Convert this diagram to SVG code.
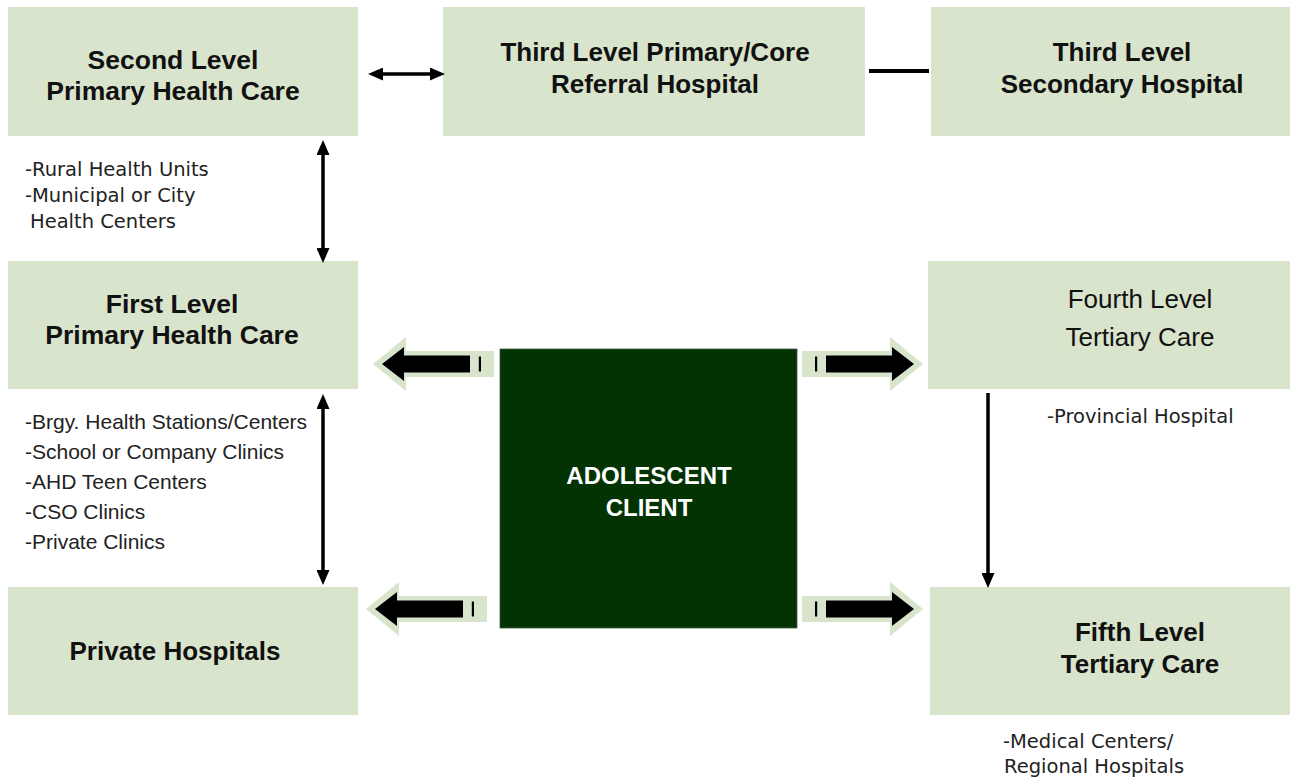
<svg xmlns="http://www.w3.org/2000/svg" width="1295" height="780" viewBox="0 0 1295 780">
<style>
.box{fill:#D9E4CC}
.b{font-family:"Liberation Sans",Arial,sans-serif;font-weight:bold;font-size:26px;fill:#111;text-anchor:middle}
.r{font-family:"Liberation Sans",Arial,sans-serif;font-size:26px;fill:#111;text-anchor:middle}
.li{font-family:"Liberation Sans",Arial,sans-serif;font-size:21px;fill:#222}
.cg{font-family:"DejaVu Sans","Liberation Sans",sans-serif;font-size:19.5px;fill:#222}
.w{font-family:"Liberation Sans",Arial,sans-serif;font-weight:bold;font-size:24px;fill:#fff;text-anchor:middle}
.ln{stroke:#000;stroke-width:3.5;fill:none}
</style>
<defs>
<marker id="ah" viewBox="0 0 15 13" markerWidth="15" markerHeight="13" refX="0" refY="6.5" markerUnits="userSpaceOnUse" orient="auto-start-reverse">
<path d="M0,0 L15,6.5 L0,13 z" fill="#000"/>
</marker>
<g id="blk">
<polygon points="0,-13 88,-13 88,-27 121,0 88,27 88,13 0,13" fill="#D9E4CC"/>
<rect x="13" y="-7.5" width="2.2" height="15" fill="#000"/>
<polygon points="24,-8.5 90,-8.5 90,-17 112,0 90,17 90,8.5 24,8.5" fill="#000"/>
</g>
</defs>
<rect width="1295" height="780" fill="#fff"/>

<g id="second-level">
<rect class="box" x="8" y="7" width="350" height="129"/>
<text class="b" x="173" y="69" style="font-size:26.5px">Second Level</text>
<text class="b" x="173" y="100" style="font-size:26.5px">Primary Health Care</text>
<text class="cg" x="25" y="176">-Rural Health Units</text>
<text class="cg" x="25" y="202">-Municipal or City</text>
<text class="cg" x="30" y="228">Health Centers</text>
</g>

<g id="third-primary">
<rect class="box" x="443" y="7" width="422" height="129"/>
<text class="b" x="655" y="61">Third Level Primary/Core</text>
<text class="b" x="655" y="93">Referral Hospital</text>
</g>

<g id="third-secondary">
<rect class="box" x="931" y="7" width="359" height="129"/>
<text class="b" x="1122" y="61">Third Level</text>
<text class="b" x="1122" y="93">Secondary Hospital</text>
</g>

<g id="first-level">
<rect class="box" x="8" y="261" width="350" height="128"/>
<text class="b" x="172" y="313" style="font-size:26.5px">First Level</text>
<text class="b" x="172" y="344" style="font-size:26.5px">Primary Health Care</text>
<text class="li" x="25" y="429">-Brgy. Health Stations/Centers</text>
<text class="li" x="25" y="459">-School or Company Clinics</text>
<text class="li" x="25" y="489">-AHD Teen Centers</text>
<text class="li" x="25" y="519">-CSO Clinics</text>
<text class="li" x="25" y="549">-Private Clinics</text>
</g>

<g id="private-hospitals">
<rect class="box" x="8" y="587" width="350" height="128"/>
<text class="b" x="175" y="660">Private Hospitals</text>
</g>

<g id="adolescent-client">
<rect x="500" y="349" width="297" height="279" fill="#033303" stroke="#3d5e3a" stroke-width="0.8"/>
<text class="w" x="649" y="484">ADOLESCENT</text>
<text class="w" x="649" y="516">CLIENT</text>
</g>

<g id="fourth-level">
<rect class="box" x="928" y="261" width="362" height="128"/>
<text class="r" x="1140" y="308">Fourth Level</text>
<text class="r" x="1140" y="346">Tertiary Care</text>
<text class="cg" x="1047" y="423">-Provincial Hospital</text>
</g>

<g id="fifth-level">
<rect class="box" x="930" y="587" width="360" height="128"/>
<text class="b" x="1140" y="641">Fifth Level</text>
<text class="b" x="1140" y="673">Tertiary Care</text>
<text class="cg" x="1003" y="748">-Medical Centers/</text>
<text class="cg" x="1004" y="773">Regional Hospitals</text>
</g>

<g id="connectors">
<line class="ln" x1="383" y1="74" x2="430" y2="74" marker-start="url(#ah)" marker-end="url(#ah)"/>
<line x1="869" y1="71" x2="929" y2="71" stroke="#000" stroke-width="4"/>
<line class="ln" x1="323" y1="155" x2="323" y2="248" marker-start="url(#ah)" marker-end="url(#ah)"/>
<line class="ln" x1="323" y1="409" x2="323" y2="570" marker-start="url(#ah)" marker-end="url(#ah)"/>
<line class="ln" x1="988" y1="393" x2="988" y2="573" marker-end="url(#ah)"/>
<use href="#blk" transform="translate(494,364) scale(-1,1)"/>
<use href="#blk" transform="translate(487,609) scale(-1,1)"/>
<use href="#blk" transform="translate(802,364)"/>
<use href="#blk" transform="translate(802,609)"/>
</g>
</svg>
